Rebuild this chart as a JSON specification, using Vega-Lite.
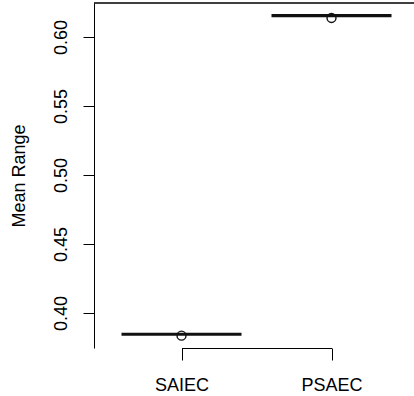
{
  "$schema": "https://vega.github.io/schema/vega-lite/v6.json",
  "autosize": "none",
  "padding": {"left": 94, "top": 3, "right": 0, "bottom": 48},
  "width": 320,
  "height": 345,
  "background": "white",
  "config": {
    "view": {"stroke": null},
    "font": "Liberation Sans",
    "axis": {"grid": false, "domain": true, "domainColor": "black", "domainWidth": 1, "tickColor": "black", "labelColor": "black", "titleColor": "black", "labelFont": "Liberation Sans", "titleFont": "Liberation Sans", "labelFontSize": 18, "titleFontSize": 18, "titleFontWeight": "normal"}
  },
  "data": {"values": [
    {"method": "SAIEC", "median": 0.3846, "outlier": 0.3836},
    {"method": "PSAEC", "median": 0.6155, "outlier": 0.6138}
  ]},
  "layer": [
    {
      "mark": {"type": "tick", "orient": "horizontal", "size": 120, "thickness": 3.2, "color": "#111", "opacity": 1},
      "encoding": {
        "x": {"field": "method", "type": "nominal", "sort": ["SAIEC", "PSAEC"],
              "scale": {"type": "point", "range": [87.5, 237.5], "padding": 0},
              "axis": {"title": null, "labelAngle": 0, "tickSize": 12, "labelPadding": 16, "labelBaseline": "top"}},
        "y": {"field": "median", "type": "quantitative",
              "scale": {"domain": [0.37464, 0.62464], "nice": false, "zero": false},
              "axis": {"title": "Mean Range", "values": [0.4, 0.45, 0.5, 0.55, 0.6], "format": ".2f",
                       "tickSize": 11, "labelAngle": -90, "labelAlign": "center", "labelBaseline": "alphabetic", "labelPadding": 17,
                       "titleX": -70, "titleY": 172.5, "titleAlign": "center", "titleBaseline": "alphabetic", "titleAngle": -90}}
      }
    },
    {
      "mark": {"type": "point", "shape": "circle", "size": 80, "filled": false, "stroke": "#111", "strokeWidth": 1.4, "opacity": 1},
      "encoding": {
        "x": {"field": "method", "type": "nominal", "sort": ["SAIEC", "PSAEC"]},
        "y": {"field": "outlier", "type": "quantitative"}
      }
    },
    {
      "mark": {"type": "rule", "color": "black", "strokeWidth": 1},
      "encoding": {"y": {"datum": 0.62464, "type": "quantitative"}}
    }
  ]
}
